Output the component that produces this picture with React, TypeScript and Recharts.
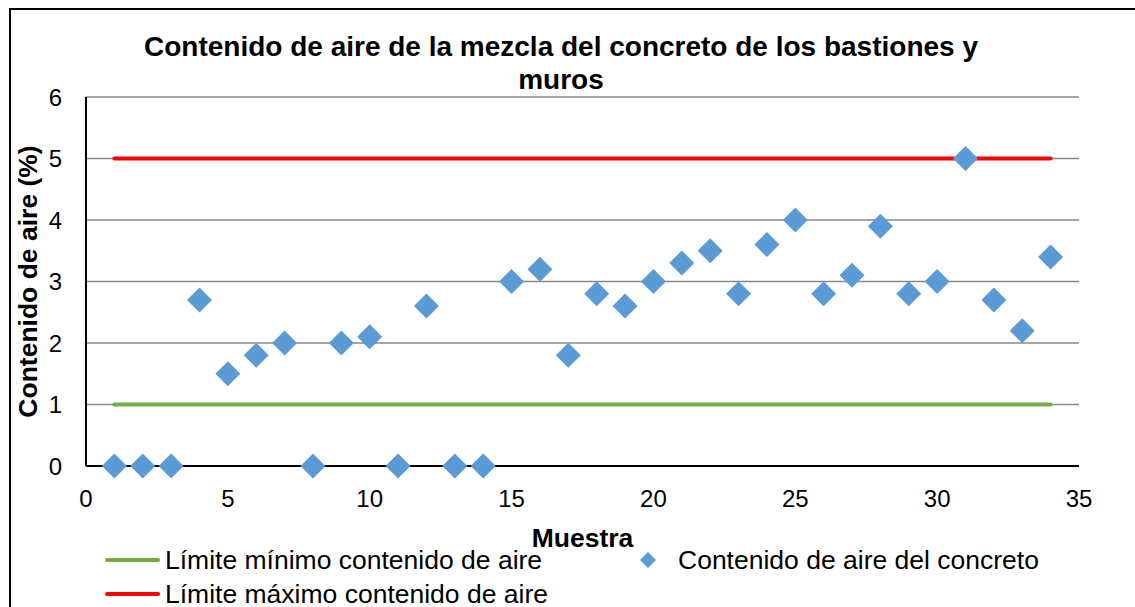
import React from "react";
import {
  ComposedChart,
  Line,
  Scatter,
  XAxis,
  YAxis,
  CartesianGrid,
  Label,
} from "recharts";

const muestras = [1, 2, 3, 4, 5, 6, 7, 8, 9, 10, 11, 12, 13, 14, 15, 16, 17, 18, 19, 20, 21, 22, 23, 24, 25, 26, 27, 28, 29, 30, 31, 32, 33, 34];
const contenidoAire = [0, 0, 0, 2.7, 1.5, 1.8, 2.0, 0, 2.0, 2.1, 0, 2.6, 0, 0, 3.0, 3.2, 1.8, 2.8, 2.6, 3.0, 3.3, 3.5, 2.8, 3.6, 4.0, 2.8, 3.1, 3.9, 2.8, 3.0, 5.0, 2.7, 2.2, 3.4];
const limiteMinimo = 1;
const limiteMaximo = 5;
const xTicks = [0, 5, 10, 15, 20, 25, 30, 35];
const yTicks = [0, 1, 2, 3, 4, 5, 6];

const scatterData = muestras.map((x, i) => ({ x, y: contenidoAire[i] }));
const minData = [
  { x: muestras[0], y: limiteMinimo },
  { x: muestras[muestras.length - 1], y: limiteMinimo },
];
const maxData = [
  { x: muestras[0], y: limiteMaximo },
  { x: muestras[muestras.length - 1], y: limiteMaximo },
];

const GREEN = "#70AD47";
const RED = "#FF0000";
const BLUE = "#5B9BD5";
const FONT = "'Liberation Sans', Arial, sans-serif";

const Diamond = (props: any) => {
  const { cx, cy } = props;
  if (cx == null || cy == null) return null;
  const r = 12.5;
  return (
    <polygon
      points={`${cx},${cy - r} ${cx + r},${cy} ${cx},${cy + r} ${cx - r},${cy}`}
      fill={BLUE}
    />
  );
};

const ChartLegend = () => (
  <div style={{ position: "absolute", left: 0, top: 544, width: 1135, height: 70, fontFamily: FONT, fontSize: 26.5, color: "#000" }}>
    <div style={{ position: "absolute", left: 105, top: 0, height: 32, display: "flex", alignItems: "center", whiteSpace: "nowrap" }}>
      <div style={{ width: 55, height: 4, background: GREEN, borderRadius: 2 }} />
      <span style={{ marginLeft: 5 }}>Límite mínimo contenido de aire</span>
    </div>
    <div style={{ position: "absolute", left: 636, top: 0, height: 32, display: "flex", alignItems: "center", whiteSpace: "nowrap" }}>
      <svg width={24} height={24}>
        <polygon points="12,4 20,12 12,20 4,12" fill={BLUE} />
      </svg>
      <span style={{ marginLeft: 18 }}>Contenido de aire del concreto</span>
    </div>
    <div style={{ position: "absolute", left: 105, top: 34, height: 32, display: "flex", alignItems: "center", whiteSpace: "nowrap" }}>
      <div style={{ width: 55, height: 4, background: RED, borderRadius: 2 }} />
      <span style={{ marginLeft: 5 }}>Límite máximo contenido de aire</span>
    </div>
  </div>
);

export default function App() {
  return (
    <div style={{ position: "absolute", left: 0, top: 0, width: 1135, height: 607, background: "#fff", overflow: "hidden", fontFamily: FONT }}>
      <div style={{ position: "absolute", left: 9, top: 8, width: 1200, height: 700, border: "2px solid #000", boxSizing: "border-box" }} />
      <div
        style={{
          position: "absolute",
          left: 61,
          width: 1000,
          top: 30,
          textAlign: "center",
          fontWeight: "bold",
          fontSize: 28,
          lineHeight: "33px",
          color: "#000",
          whiteSpace: "nowrap",
        }}
      >
        Contenido de aire de la mezcla del concreto de los bastiones y<br />muros
      </div>
      <ComposedChart
        width={1135}
        height={607}
        margin={{ top: 97, right: 56, bottom: 111, left: 0 }}
        style={{ position: "absolute", left: 0, top: 0 }}
      >
        <CartesianGrid vertical={false} stroke="#888888" strokeWidth={1.5} />
        <XAxis
          dataKey="x"
          type="number"
          domain={[0, 35]}
          ticks={xTicks}
          allowDataOverflow
          axisLine={{ stroke: "#000", strokeWidth: 2 }}
          tickLine={false}
          tickSize={0}
          tickMargin={24}
          tick={{ fill: "#000", fontSize: 24, fontFamily: FONT }}
        >
          <Label
            value="Muestra"
            position="insideBottom"
            offset={-51}
            style={{ fontWeight: "bold", fontSize: 26.5, fill: "#000", fontFamily: FONT }}
          />
        </XAxis>
        <YAxis
          dataKey="y"
          type="number"
          domain={[0, 6]}
          ticks={yTicks}
          width={86}
          axisLine={{ stroke: "#000", strokeWidth: 2 }}
          tickLine={false}
          tickSize={0}
          tickMargin={24}
          tick={{ fill: "#000", fontSize: 24, fontFamily: FONT }}
        >
          <Label
            value="Contenido de aire (%)"
            angle={-90}
            position="insideLeft"
            offset={28}
            style={{ textAnchor: "middle", fontWeight: "bold", fontSize: 26.5, fill: "#000", fontFamily: FONT }}
          />
        </YAxis>
        <Line
          data={minData}
          dataKey="y"
          name="Límite mínimo contenido de aire"
          stroke={GREEN}
          strokeWidth={4}
          dot={false}
          strokeLinecap="round"
          isAnimationActive={false}
        />
        <Line
          data={maxData}
          dataKey="y"
          name="Límite máximo contenido de aire"
          stroke={RED}
          strokeWidth={4}
          dot={false}
          strokeLinecap="round"
          isAnimationActive={false}
        />
        <Scatter
          data={scatterData}
          dataKey="y"
          name="Contenido de aire del concreto"
          fill={BLUE}
          shape={Diamond}
          isAnimationActive={false}
        />
      </ComposedChart>
      <ChartLegend />
    </div>
  );
}
